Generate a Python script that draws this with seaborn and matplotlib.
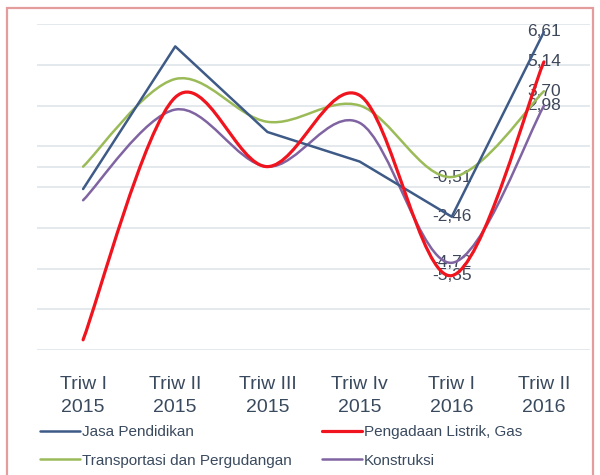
import numpy as np
import pandas as pd
import matplotlib
matplotlib.use("Agg")
import matplotlib.pyplot as plt
import seaborn as sns
from matplotlib.path import Path
from matplotlib.patches import PathPatch, Rectangle
from matplotlib.lines import Line2D

# Quarterly growth by sector (%)
quarters = ["Triw I\n2015", "Triw II\n2015", "Triw III\n2015",
            "Triw Iv\n2015", "Triw I\n2016", "Triw II\n2016"]
jasa_pendidikan = [-1.10, 5.90, 1.70, 0.25, -2.46, 6.61]
pengadaan_listrik = [-8.50, 3.40, 0.00, 3.50, -5.35, 5.14]
transportasi = [0.00, 4.30, 2.20, 3.00, -0.51, 3.70]
konstruksi = [-1.65, 2.80, 0.00, 2.15, -4.72, 2.98]

series_names = ["Jasa Pendidikan", "Pengadaan Listrik, Gas",
                "Transportasi dan Pergudangan", "Konstruksi"]
series_values = [jasa_pendidikan, pengadaan_listrik, transportasi, konstruksi]
colors = {"Jasa Pendidikan": "#3e5a86",
          "Pengadaan Listrik, Gas": "#f0141e",
          "Transportasi dan Pergudangan": "#9bbb59",
          "Konstruksi": "#8064a2"}
widths = {"Jasa Pendidikan": 1.8, "Pengadaan Listrik, Gas": 2.3,
          "Transportasi dan Pergudangan": 1.8, "Konstruksi": 1.8}
smoothed = {"Jasa Pendidikan": False, "Pengadaan Listrik, Gas": True,
            "Transportasi dan Pergudangan": True, "Konstruksi": True}

sns.set_style("white")
plt.rcParams["font.family"] = ["Liberation Sans", "DejaVu Sans"]

df = pd.DataFrame({
    "pos": np.tile(np.arange(len(quarters)), len(series_names)),
    "sektor": np.repeat(series_names, len(quarters)),
    "nilai": np.concatenate(series_values),
})

fig = plt.figure(figsize=(6, 4.75), dpi=100)
W, H = 600, 475
ax = fig.add_axes([37 / W, (H - 350) / H, (590 - 37) / W, (350 - 24) / H])


def smooth_path(xs, ys):
    """Cubic Bezier path through the points (spreadsheet-style smoothing)."""
    pts = np.column_stack([xs, ys]).astype(float)
    n = len(pts)
    verts, codes = [pts[0]], [Path.MOVETO]
    for i in range(n - 1):
        p0 = pts[max(i - 1, 0)]
        p1 = pts[i]
        p2 = pts[i + 1]
        p3 = pts[min(i + 2, n - 1)]
        verts += [p1 + (p2 - p0) / 6.0, p2 - (p3 - p1) / 6.0, p2]
        codes += [Path.CURVE4] * 3
    return Path(verts, codes)


# straight series through seaborn
straight = df[df["sektor"] == "Jasa Pendidikan"]
sns.lineplot(data=straight, x="pos", y="nilai", color=colors["Jasa Pendidikan"],
             lw=widths["Jasa Pendidikan"], ax=ax, legend=False, zorder=4)

# smoothed series
z = {"Transportasi dan Pergudangan": 3, "Konstruksi": 3.5, "Pengadaan Listrik, Gas": 5}
for name in series_names:
    if not smoothed[name]:
        continue
    sub = df[df["sektor"] == name]
    patch = PathPatch(smooth_path(sub["pos"].values, sub["nilai"].values),
                      fill=False, ec=colors[name], lw=widths[name],
                      capstyle="round", joinstyle="round", zorder=z[name])
    ax.add_patch(patch)

ax.set_xlim(-0.5, len(quarters) - 0.5)
ax.set_ylim(-9, 7)
ax.set_yticks(np.arange(-9, 8, 2))
ax.yaxis.grid(True, color="#e1e7eb", lw=1.3)
ax.axhline(0, color="#e1e7eb", lw=1.3, zorder=0)
ax.set_axisbelow(True)
ax.set_yticklabels([])
ax.tick_params(axis="y", length=0)
ax.set_xticks(range(len(quarters)))
ax.set_xticklabels(quarters, fontsize=14, color="#3a4a5e", linespacing=1.45)
ax.tick_params(axis="x", length=0, pad=19)
ax.set_xlabel("")
ax.set_ylabel("")
for s in ax.spines.values():
    s.set_visible(False)

# value labels on the last two quarters
for name, vals in zip(series_names, series_values):
    for i in (4, 5):
        ax.text(i, vals[i], f"{vals[i]:.2f}".replace(".", ","), ha="center",
                va="center", fontsize=12.5, color="#3d4759", zorder=2)

# legend in two columns
handles = {n: Line2D([], [], color=colors[n], lw=widths[n]) for n in series_names}
common = dict(frameon=False, fontsize=11, handlelength=2.6, handletextpad=0.15,
              labelspacing=0.95, borderpad=0, borderaxespad=0, loc="upper left")
fig.legend(handles=[handles["Jasa Pendidikan"], handles["Transportasi dan Pergudangan"]],
           labels=["Jasa Pendidikan", "Transportasi dan Pergudangan"],
           bbox_to_anchor=(40 / W, 1 - 425 / H), labelcolor="#3a4a5e", **common)
fig.legend(handles=[handles["Pengadaan Listrik, Gas"], handles["Konstruksi"]],
           labels=["Pengadaan Listrik, Gas", "Konstruksi"],
           bbox_to_anchor=(322 / W, 1 - 425 / H), labelcolor="#3a4a5e", **common)

# outer chart border
fig.patches.append(Rectangle((7 / W, -0.05), (593 - 7) / W, (H - 8) / H + 0.05,
                             transform=fig.transFigure, fill=False,
                             ec="#e59c9c", lw=1.6))

fig.savefig("out.png", dpi=100)
